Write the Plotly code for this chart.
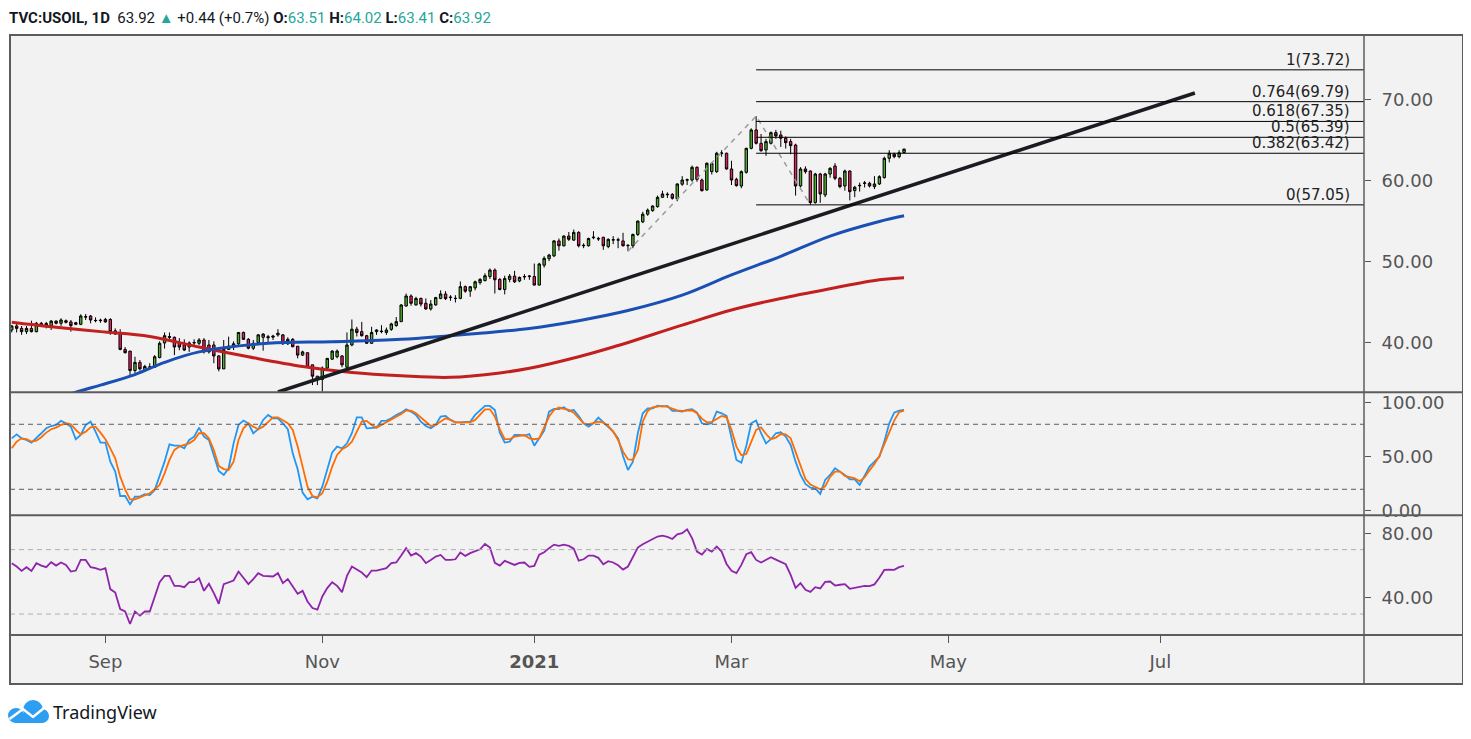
"""USOIL daily chart with stochastic and RSI panels (TradingView style)."""

import pandas as pd
import plotly.graph_objects as go
from plotly.subplots import make_subplots

SYMBOL = "TVC:USOIL, 1D"
HOLIDAYS = ["2020-12-25", "2021-01-01", "2021-04-02"]
X_RANGE = ["2020-08-04 15:36", "2021-08-27 07:12"]

TICK_VALS = ["2020-09-01", "2020-11-02", "2021-01-04", "2021-03-01", "2021-05-03", "2021-07-01"]
TICK_TEXT = ["Sep", "Nov", "<b>2021</b>", "Mar", "May", "Jul"]

opens = [
    41.6, 42.1, 41.8, 41.4, 41.8, 41.4, 42.43, 42.2, 42.1, 42.7,
    42.43, 42.75, 42.6, 42.3, 42.3, 43.25, 43.33, 42.75, 42.75, 42.9,
    42.9, 41.5, 41.2, 39.2, 39.0, 36.6, 37.6, 36.7, 37.0, 37.0,
    38.2, 40.0, 40.8, 40.7, 40.0, 39.75, 39.5, 40.0, 39.96, 40.37,
    39.75, 39.75, 38.4, 36.8, 39.2, 39.55, 39.9, 41.3, 40.45, 39.35,
    40.04, 40.7, 40.78, 40.86, 41.0, 41.0, 39.9, 40.45, 39.6, 38.5,
    38.8, 37.3, 35.9, 35.5, 36.9, 38.0, 38.3, 38.4, 37.0, 39.75,
    41.7, 41.4, 40.9, 39.96, 41.4, 41.4, 41.3, 41.68, 42.15, 42.63,
    44.56, 45.8, 44.7, 45.5, 44.9, 44.2, 44.7, 45.5, 46.05, 45.6,
    45.5, 45.5, 46.95, 46.4, 46.8, 47.45, 47.7, 48.2, 49.0, 47.85,
    46.6, 47.85, 48.25, 47.65, 48.15, 48.2, 48.2, 47.15, 49.6, 50.4,
    50.75, 52.6, 52.0, 53.2, 52.7, 53.65, 52.0, 52.0, 53.0, 52.9,
    53.05, 51.9, 52.7, 52.75, 52.6, 52.0, 52.0, 53.4, 54.95, 55.9,
    56.34, 56.83, 57.98, 58.3, 58.35, 57.78, 59.6, 60.1, 60.12, 61.69,
    60.12, 58.89, 61.15, 61.15, 63.4, 63.42, 61.48, 60.2, 59.38, 61.07,
    64.03, 66.3, 64.65, 63.83, 64.65, 65.97, 65.68, 65.27, 64.86, 64.44,
    59.38, 61.48, 61.23, 57.33, 60.86, 58.27, 60.86, 61.85, 60.33, 59.38,
    61.23, 58.81, 59.4, 59.7, 59.71, 59.3, 59.63, 60.41, 62.8, 63.33,
    63.0, 63.51,
]
highs = [
    42.2, 42.43, 42.1, 42.1, 42.75, 42.6, 42.6, 42.6, 42.84, 42.8,
    43.05, 42.9, 42.84, 42.6, 43.54, 43.58, 43.45, 43.16, 43.0, 43.1,
    43.05, 41.8, 41.7, 39.5, 39.0, 38.3, 37.9, 37.3, 37.5, 38.5,
    40.2, 41.3, 41.3, 40.8, 40.6, 40.45, 40.2, 40.45, 40.6, 40.6,
    40.37, 40.2, 38.5, 40.37, 40.78, 40.2, 41.3, 41.4, 40.6, 40.37,
    41.1, 41.2, 41.0, 41.0, 41.7, 41.1, 40.7, 40.6, 39.6, 39.05,
    38.8, 37.3, 35.9, 37.1, 38.1, 39.1, 39.2, 38.5, 41.3, 42.9,
    42.0, 42.6, 41.0, 42.0, 41.7, 42.2, 41.9, 42.5, 43.2, 44.8,
    46.1, 46.0, 45.7, 45.6, 45.5, 45.3, 45.7, 46.5, 46.4, 45.9,
    45.9, 47.6, 47.1, 47.0, 47.7, 48.0, 48.6, 49.2, 49.2, 48.0,
    48.3, 48.5, 48.9, 48.2, 48.5, 48.4, 49.8, 49.9, 50.7, 51.0,
    52.7, 52.9, 53.3, 53.7, 54.0, 53.8, 52.3, 53.0, 53.8, 53.1,
    53.1, 52.9, 53.2, 53.0, 53.6, 52.2, 53.5, 55.1, 56.2, 56.6,
    57.0, 58.2, 58.8, 58.6, 58.5, 59.7, 60.6, 60.3, 61.9, 61.8,
    60.3, 62.3, 62.3, 63.6, 63.8, 63.5, 62.5, 60.4, 61.3, 64.1,
    66.5, 68.0, 65.8, 65.2, 66.1, 66.3, 66.2, 65.5, 65.2, 64.6,
    61.7, 61.8, 61.3, 61.0, 61.0, 61.0, 61.7, 62.2, 60.5, 61.4,
    61.3, 59.4, 59.8, 60.0, 59.9, 60.6, 60.7, 63.0, 63.8, 63.5,
    63.8, 64.02,
]
lows = [
    41.3, 41.3, 41.0, 41.1, 41.3, 41.3, 42.0, 41.8, 41.6, 42.3,
    42.1, 42.4, 41.4, 42.2, 42.2, 42.84, 42.43, 42.55, 42.5, 42.5,
    41.0, 41.0, 39.1, 38.7, 36.05, 36.25, 36.6, 36.5, 36.7, 36.9,
    38.1, 39.3, 40.45, 38.5, 39.1, 39.0, 38.9, 39.75, 39.75, 38.7,
    38.7, 37.5, 36.5, 36.8, 39.13, 39.13, 39.75, 40.37, 39.22, 39.13,
    39.96, 39.05, 39.96, 40.37, 40.78, 39.75, 39.75, 39.46, 38.1, 38.4,
    36.9, 34.8, 34.8, 34.0, 36.66, 37.9, 38.1, 37.0, 36.9, 39.6,
    40.8, 40.78, 39.9, 39.9, 41.0, 41.2, 41.0, 41.5, 42.0, 42.6,
    44.5, 44.6, 44.6, 44.5, 44.1, 44.0, 44.6, 45.4, 45.3, 45.2,
    45.0, 45.4, 46.2, 45.7, 46.5, 47.2, 47.6, 47.9, 46.1, 46.5,
    46.0, 47.5, 47.4, 47.5, 47.8, 47.8, 47.1, 47.1, 49.3, 50.1,
    50.6, 51.4, 51.9, 52.6, 52.6, 51.8, 51.7, 51.9, 52.8, 52.6,
    51.5, 51.7, 52.2, 51.7, 51.9, 51.33, 51.7, 53.2, 54.8, 55.7,
    56.2, 56.7, 57.9, 57.9, 57.7, 57.5, 59.4, 59.5, 59.9, 59.9,
    58.7, 58.8, 60.8, 61.0, 63.0, 61.4, 59.5, 59.3, 59.1, 60.9,
    63.9, 64.5, 63.6, 63.1, 64.5, 65.2, 64.2, 64.0, 63.3, 58.2,
    59.2, 60.9, 57.05, 57.2, 57.3, 58.0, 60.4, 60.1, 59.1, 58.8,
    57.6, 58.0, 58.7, 59.2, 59.2, 59.0, 59.5, 60.3, 62.3, 62.8,
    62.8, 63.41,
]
closes = [
    42.1, 41.8, 41.4, 41.8, 41.4, 42.43, 42.1, 42.4, 42.7, 42.43,
    42.84, 42.55, 42.14, 42.5, 43.33, 43.2, 42.84, 42.78, 42.8, 42.6,
    41.4, 41.1, 39.2, 38.8, 36.6, 37.6, 36.8, 37.1, 37.05, 38.3,
    39.96, 40.9, 40.7, 39.5, 39.5, 39.13, 40.0, 40.05, 40.37, 38.9,
    38.9, 38.4, 36.8, 39.2, 39.6, 39.9, 41.3, 40.45, 39.35, 39.96,
    41.0, 41.1, 40.65, 40.74, 41.2, 39.9, 40.45, 39.54, 38.5, 38.9,
    37.0, 35.9, 35.5, 36.9, 38.1, 39.0, 39.0, 37.3, 39.75, 41.7,
    41.3, 40.9, 39.96, 41.3, 41.6, 41.45, 41.6, 42.35, 42.63, 44.69,
    45.8, 44.9, 45.5, 44.8, 44.2, 44.8, 45.6, 46.05, 45.47, 45.65,
    45.5, 46.95, 46.4, 46.95, 47.55, 47.85, 48.3, 49.0, 47.8, 46.6,
    47.95, 48.25, 47.55, 48.1, 48.2, 48.25, 47.15, 49.75, 50.45, 50.85,
    52.6, 52.0, 53.2, 52.8, 53.65, 52.0, 52.05, 52.9, 53.05, 52.85,
    52.0, 52.8, 52.75, 52.7, 52.0, 52.05, 53.4, 55.05, 55.9, 56.4,
    56.91, 57.98, 58.4, 58.35, 57.86, 59.63, 60.12, 60.15, 61.69, 60.2,
    58.8, 62.18, 62.18, 63.42, 63.45, 61.48, 60.12, 59.42, 61.15, 64.03,
    66.3, 64.65, 63.74, 64.86, 65.97, 65.56, 65.27, 64.73, 64.36, 59.38,
    61.48, 61.15, 57.33, 60.86, 58.4, 60.86, 61.56, 60.33, 59.3, 61.23,
    58.68, 59.22, 59.45, 59.75, 59.38, 59.63, 60.53, 62.8, 63.42, 63.0,
    63.48, 63.92,
]

stoch_k = [
    67.0, 70.7, 67.0, 65.5, 63.1, 67.0, 71.7, 76.3, 78.4, 79.4,
    83.1, 80.9, 77.8, 66.2, 70.1, 79.4, 82.4, 73.2, 63.1, 63.1,
    45.5, 36.3, 13.8, 13.8, 6.1, 13.2, 13.2, 15.4, 14.7, 19.4,
    32.3, 45.5, 61.5, 60.3, 60.3, 57.8, 65.5, 68.6, 76.9, 68.6,
    65.5, 51.7, 36.9, 33.2, 39.4, 62.4, 79.4, 83.4, 80.9, 71.7,
    75.4, 84.0, 88.6, 85.5, 85.5, 80.9, 75.4, 53.2, 38.4, 16.9,
    10.7, 13.2, 11.7, 22.4, 38.7, 54.1, 59.4, 57.8, 62.4, 71.7,
    86.4, 86.4, 76.3, 76.3, 76.9, 83.1, 83.4, 85.5, 88.6, 90.7,
    93.8, 91.7, 88.6, 82.4, 78.4, 76.3, 79.4, 87.1, 87.7, 84.0,
    81.8, 81.8, 81.8, 82.4, 88.6, 93.2,
    96.9, 96.9, 93.2, 72.3, 63.1, 64.0, 70.1, 70.1, 69.5, 71.0,
    60.3, 67.0, 74.1, 91.7, 94.1, 94.1, 95.7, 92.3, 93.2, 87.7,
    80.9, 77.8, 80.9, 86.1, 81.5, 77.8, 73.2, 67.0, 50.7, 37.8,
    45.5, 71.7, 90.1, 94.7, 94.7, 97.2, 96.3, 96.9, 92.3, 92.3,
    91.7, 93.2, 93.8, 90.7, 80.9, 80.0, 80.9, 91.7, 90.1, 87.7,
    68.6, 47.1, 44.6, 60.0, 80.9, 83.4, 71.7, 62.4, 66.2, 71.7,
    72.6, 68.6, 60.9, 45.5, 33.2, 24.9, 21.5, 20.9, 15.7, 28.6,
    33.2, 39.4, 36.3, 33.2, 29.2, 29.2, 24.0, 33.2, 40.9, 45.5,
    50.1, 64.0, 80.9, 90.7, 92.6, 93.2,
]
stoch_d = [
    57.8, 64.0, 67.0, 66.4, 64.0, 64.9, 68.0, 72.3, 75.4, 76.9,
    79.4, 80.9, 80.0, 74.8, 70.7, 73.2, 77.2, 77.8, 72.3, 66.2,
    57.8, 48.6, 31.7, 20.0, 10.7, 10.7, 12.6, 14.7, 16.3, 20.0,
    24.0, 34.7, 47.1, 56.3, 59.4, 60.9, 62.4, 65.5, 71.7, 71.7,
    67.0, 56.3, 41.5, 38.7, 37.8, 45.5, 65.5, 76.3, 80.9, 77.8,
    75.4, 77.8, 82.4, 86.4, 86.4, 84.0, 80.9, 74.8, 59.4, 40.9,
    22.4, 13.8, 12.6, 16.3, 27.0, 40.9, 51.7, 56.9, 59.4, 64.0,
    73.2, 82.4, 83.1, 79.4, 76.9, 79.4, 81.5, 84.6, 87.1, 89.5,
    92.6, 92.6, 90.1, 86.1, 82.4, 78.4, 79.4, 82.4, 85.5, 84.0,
    81.8, 81.8, 81.8, 81.8, 84.0, 88.6,
    93.8, 93.8, 87.1, 75.4, 66.2, 66.2, 68.6, 69.2, 70.1, 67.0,
    66.2, 67.0, 77.8, 87.1, 93.2, 95.4, 94.1, 93.2, 90.7, 85.5,
    80.9, 80.0, 81.5, 82.4, 81.5, 78.4, 73.2, 65.5, 54.7, 47.7,
    47.1, 56.3, 82.4, 92.3, 95.7, 96.6, 96.9, 96.0, 94.1, 92.9,
    92.3, 92.9, 92.9, 90.1, 85.2, 81.8, 82.1, 84.9, 87.7, 86.4,
    74.8, 59.4, 51.4, 52.6, 64.0, 74.8, 77.2, 71.0, 66.2, 67.7,
    71.0, 70.7, 67.0, 54.4, 40.3, 29.5, 24.3, 21.8, 20.0, 22.7,
    31.4, 36.3, 36.3, 32.3, 31.0, 30.1, 27.4, 31.0, 37.5, 43.4,
    50.7, 61.5, 71.7, 83.4, 91.1, 92.6,
]
rsi = [
    61.6, 59.5, 56.8, 59.1, 56.8, 61.6, 60.1, 59.1, 62.2, 60.1,
    62.0, 60.5, 56.4, 57.0, 63.6, 63.6, 59.1, 58.5, 57.4, 58.5,
    45.5, 43.4, 33.1, 31.6, 23.8, 31.6, 29.0, 31.6, 31.6, 40.5,
    49.8, 53.7, 53.7, 47.5, 47.5, 46.7, 49.8, 49.8, 52.3, 44.4,
    48.8, 43.0, 36.4, 48.6, 49.8, 50.8, 56.4, 52.3, 48.6, 51.7,
    55.4, 53.7, 53.3, 53.3, 55.4, 49.2, 51.7, 47.1, 42.6, 44.4,
    37.8, 33.7, 32.7, 40.9, 46.1, 49.8, 47.5, 43.6, 53.7, 59.5,
    57.4, 55.8, 52.9, 57.0, 57.0, 57.8, 58.5, 61.6, 62.0, 66.3,
    70.9, 66.3, 67.8, 65.7, 61.6, 63.6, 65.7, 66.7, 63.6, 63.6,
    64.0, 68.2, 66.1, 67.8, 69.2, 70.2,
    73.5, 71.3, 61.8, 60.1, 63.0, 61.8, 60.5, 61.8, 62.0, 59.3,
    59.9, 66.9, 68.4, 70.9, 73.1, 72.3, 73.1, 72.3, 70.6, 63.2,
    64.0, 66.3, 66.3, 64.9, 60.9, 62.8, 62.0, 60.3, 57.6, 59.5,
    65.9, 71.3, 73.3, 74.8, 76.4, 78.1, 78.7, 77.9, 76.6, 79.5,
    80.2, 82.6, 77.1, 68.8, 66.9, 70.4, 68.8, 71.9, 68.8, 61.1,
    56.8, 55.4, 60.5, 67.1, 68.4, 63.6, 62.0, 63.6, 65.3, 63.8,
    62.4, 60.9, 54.3, 46.3, 49.2, 45.1, 43.8, 46.7, 45.9, 50.0,
    50.2, 47.7, 48.2, 48.6, 45.7, 46.3, 47.1, 47.5, 47.3, 48.4,
    52.5, 57.4, 57.6, 57.4, 59.1, 59.9,
]

# moving averages, read at a few dates
ma_slow_dates = ["2020-08-05", "2020-08-17", "2020-08-31", "2020-09-14", "2020-09-28",
                 "2020-10-12", "2020-10-27", "2020-11-10", "2020-11-24", "2020-12-08",
                 "2020-12-22", "2020-12-31", "2021-01-15", "2021-01-26", "2021-02-15",
                 "2021-03-01", "2021-03-15", "2021-03-29", "2021-04-13", "2021-04-20"]
ma_slow = [42.55, 42.0, 41.4, 40.8, 39.5, 38.3, 37.1, 36.35, 35.95, 35.76,
           36.3, 36.87, 38.3, 39.5, 42.2, 44.07, 45.5, 46.7, 47.8, 48.06]
ma_fast_dates = ["2020-08-19", "2020-08-25", "2020-08-31", "2020-09-09", "2020-09-17",
                 "2020-09-28", "2020-10-16", "2020-11-04", "2020-11-24", "2020-12-16",
                 "2020-12-31", "2021-01-15", "2021-01-29", "2021-02-15", "2021-03-01",
                 "2021-03-15", "2021-03-29", "2021-04-13", "2021-04-20"]
ma_fast = [33.3, 34.1, 34.8, 36.1, 37.6, 38.9, 39.96, 40.16, 40.45, 41.2,
           41.8, 42.75, 44.0, 45.9, 48.4, 50.7, 53.2, 55.0, 55.7]

trend_dates = ["2020-10-20", "2021-07-12"]
trend_vals = [33.95, 70.86]

abc_dates = ["2021-01-29", "2021-03-08", "2021-03-23"]
abc_vals = [51.33, 68.0, 57.05]

fib_start = "2021-03-08"
fib_ratios = [1, 0.764, 0.618, 0.5, 0.382, 0]
fib_prices = [73.72, 69.79, 67.35, 65.39, 63.42, 57.05]

GREEN = "#4caf28"
RED = "#e91e63"
TEAL = "#26a69a"
DARK = "#131722"
AXIS = "#555555"
FRAME = "#5c5c5c"
AX_FONT = dict(family="DejaVu Sans", size=18, color=AXIS)

dates = [d.strftime("%Y-%m-%d") for d in pd.bdate_range("2020-08-05", "2021-04-20")
         if d.strftime("%Y-%m-%d") not in HOLIDAYS]


# helpers for decorations, in screen pixels of the 1471x739 page
def px(x):
    return (x - 10) / 1354


def py(y):
    return (635 - y) / 600


fig = make_subplots(rows=3, cols=1, shared_xaxes=True, vertical_spacing=0)

fig.add_trace(go.Scatter(x=ma_slow_dates, y=ma_slow, mode="lines", line=dict(color="#c21f1f", width=3, shape="spline")), 1, 1)
fig.add_trace(go.Scatter(x=ma_fast_dates, y=ma_fast, mode="lines", line=dict(color="#1a4fb3", width=3, shape="spline")), 1, 1)
fig.add_trace(go.Scatter(x=trend_dates, y=trend_vals, mode="lines", line=dict(color="#1b1b22", width=3.5)), 1, 1)
fig.add_trace(go.Scatter(x=abc_dates, y=abc_vals, mode="lines", line=dict(color="#9a9a9a", width=1.5, dash="5px,5px")), 1, 1)
fig.add_trace(
    go.Candlestick(
        x=dates, open=opens, high=highs, low=lows, close=closes,
        increasing=dict(fillcolor=GREEN, line=dict(color="black", width=1)),
        decreasing=dict(fillcolor=RED, line=dict(color="black", width=1)),
        whiskerwidth=0,
    ),
    1, 1,
)

fig.add_trace(go.Scatter(x=dates, y=stoch_k, mode="lines", line=dict(color="#2196f3", width=1.8)), 2, 1)
fig.add_trace(go.Scatter(x=dates, y=stoch_d, mode="lines", line=dict(color="#ff6d00", width=1.8)), 2, 1)
fig.add_trace(go.Scatter(x=dates, y=rsi, mode="lines", line=dict(color="#8e24aa", width=1.8)), 3, 1)

# indicator bands
fig.add_shape(type="rect", xref="x2 domain", yref="y2", x0=0, x1=1, y0=20, y1=80,
              fillcolor="#e0c5f4", line_width=0, layer="below")
for lvl in (20, 80):
    fig.add_shape(type="line", xref="x2 domain", yref="y2", x0=0, x1=1, y0=lvl, y1=lvl,
                  line=dict(color="#5a5a6a", width=1, dash="5px,4px"))
fig.add_shape(type="rect", xref="x3 domain", yref="y3", x0=0, x1=1, y0=30, y1=70,
              fillcolor="#e9dbf3", line_width=0, layer="below")
for lvl in (30, 70):
    fig.add_shape(type="line", xref="x3 domain", yref="y3", x0=0, x1=1, y0=lvl, y1=lvl,
                  line=dict(color="#b0b0b0", width=1, dash="5px,4px"))

# fib extension
for r, p in zip(fib_ratios, fib_prices):
    fig.add_shape(type="line", xref="x", yref="y", x0=fib_start, x1=X_RANGE[1], y0=p, y1=p,
                  line=dict(color="black", width=1))
    fig.add_annotation(xref="x domain", yref="y", x=px(1352), y=p, text=f"{r:g}({p:.2f})",
                       xanchor="right", yanchor="bottom", showarrow=False, yshift=-1,
                       font=dict(family="DejaVu Sans", size=15, color="#222"))

# frame, background and separators
fig.add_shape(type="rect", xref="paper", yref="paper", x0=0, x1=px(1463), y0=py(684), y1=1,
              fillcolor="#f2f2f2", line_width=0, layer="below")
fig.add_shape(type="rect", xref="paper", yref="paper", x0=0, x1=px(1463), y0=py(684), y1=1,
              line=dict(color=FRAME, width=2))
for yy in (392.3, 515.3, 635):
    fig.add_shape(type="line", xref="paper", yref="paper", x0=0, x1=px(1463), y0=py(yy), y1=py(yy),
                  line=dict(color=FRAME, width=2))
fig.add_shape(type="line", xref="paper", yref="paper", x0=1, x1=1, y0=py(684), y1=1,
              line=dict(color=FRAME, width=1.5))

# header
o, h, l, c = opens[-1], highs[-1], lows[-1], closes[-1]
chg = c - closes[-2]
pct = chg / closes[-2] * 100
tl = lambda v: f"<span style='color:{TEAL}'>{v:.2f}</span>"
header = (f"<b>{SYMBOL}</b>  {c:.2f} <span style='color:{TEAL}'>▲</span> +{chg:.2f} (+{pct:.1f}%) "
          f"<b>O:</b>{tl(o)} <b>H:</b>{tl(h)} <b>L:</b>{tl(l)} <b>C:</b>{tl(c)}")
fig.add_annotation(xref="paper", yref="paper", x=px(8), y=py(8), text=header, xanchor="left",
                   yanchor="top", borderpad=0, showarrow=False,
                   font=dict(family="Roboto", size=15, color=DARK))

# TradingView logo
cloud = "#2e9ef3"
for (x0, y0, x1, y1) in [(8, 708, 24, 723), (23, 700, 43, 720), (35, 709, 49, 723)]:
    fig.add_shape(type="circle", xref="paper", yref="paper", x0=px(x0), x1=px(x1), y0=py(y1), y1=py(y0),
                  fillcolor=cloud, line_width=0)
fig.add_shape(type="rect", xref="paper", yref="paper", x0=px(15), x1=px(43), y0=py(723), y1=py(713),
              fillcolor=cloud, line_width=0)
zig = [(9.5, 719), (23, 709), (33, 717), (44, 708)]
fig.add_shape(type="path", xref="paper", yref="paper",
              path="M " + " L ".join(f"{px(a):.5f},{py(b):.5f}" for a, b in zig),
              line=dict(color="white", width=2.5))
fig.add_annotation(xref="paper", yref="paper", x=px(51), y=py(712), text="TradingView", xanchor="left",
                   yanchor="middle", showarrow=False, font=dict(family="Noto Sans", size=18, color=DARK))

fig.update_xaxes(range=X_RANGE, rangebreaks=[dict(bounds=["sat", "mon"]), dict(values=HOLIDAYS)],
                 showgrid=False, zeroline=False, showline=False, rangeslider_visible=False,
                 tickvals=TICK_VALS, ticktext=TICK_TEXT, showticklabels=False, ticks="")
fig.update_xaxes(showticklabels=True, ticks="outside", ticklen=7, tickcolor=AXIS, tickfont=AX_FONT,
                 ticklabelstandoff=3, row=3, col=1)
fig.update_yaxes(side="right", showgrid=False, zeroline=False, showline=False, ticks="outside",
                 ticklen=6, tickcolor=AXIS, tickfont=AX_FONT, tickformat=".2f", ticklabelstandoff=7)

# the page body has an 8px margin, so the figure is 8px smaller and margins shifted
fig.update_layout(
    width=1463, height=731,
    margin=dict(l=2, r=107, t=27, b=104),
    paper_bgcolor="white", plot_bgcolor="rgba(0,0,0,0)",
    showlegend=False, hovermode=False,
    yaxis=dict(domain=[0.4045, 1], range=[33.91, 78.02], tickvals=[40, 50, 60, 70]),
    yaxis2=dict(domain=[0.1995, 0.4045], range=[-4.0, 109.5], tickvals=[0, 50, 100]),
    yaxis3=dict(domain=[0, 0.1995], range=[17.0, 91.3], tickvals=[40, 80]),
)

fig.write_html("out.html")
